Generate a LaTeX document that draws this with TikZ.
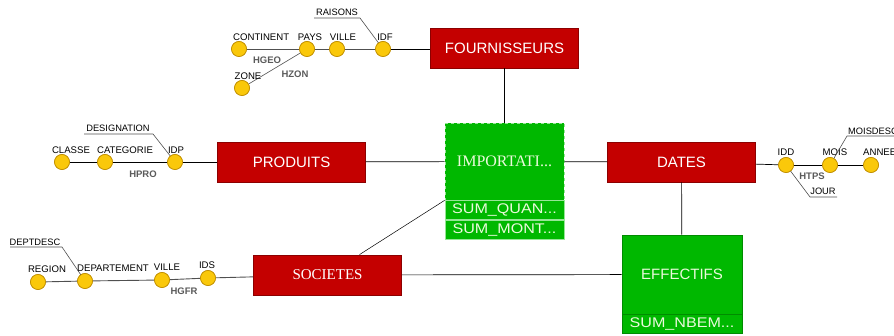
\documentclass[tikz,border=0pt]{standalone}
\usepackage{fontspec}
\setmainfont{Liberation Sans}
\newfontfamily\serifl{Liberation Serif}
\definecolor{boxred}{RGB}{196,0,0}
\definecolor{boxreddark}{RGB}{140,0,0}
\definecolor{boxgreen}{RGB}{0,184,0}
\definecolor{greenedge}{RGB}{0,140,0}
\definecolor{greenlight}{RGB}{150,230,150}
\definecolor{greentext}{RGB}{235,250,220}
\definecolor{dotyellow}{RGB}{250,200,10}
\definecolor{dotedge}{RGB}{190,140,0}
\definecolor{linegray}{RGB}{80,80,80}
\definecolor{labgray}{RGB}{90,90,90}
\begin{document}
\begin{tikzpicture}[x=1pt,y=-1pt,
  redbox/.style={fill=boxred,draw=boxreddark,line width=0.8pt,text=white,
    minimum width=148pt,minimum height=40pt,inner sep=0pt,font=\fontsize{15}{15}\selectfont},
  greenbox/.style={fill=boxgreen,draw=greenedge,line width=0.6pt,text=greentext,inner sep=0pt},
  rowbox/.style={fill=boxgreen,draw=greenlight,line width=0.6pt,text=greentext,inner sep=0pt,
    minimum height=19pt,font=\fontsize{14}{14}\selectfont},
  ydot/.style={circle,fill=dotyellow,draw=dotedge,line width=0.6pt,minimum size=15pt,inner sep=0pt},
  lvl/.style={font=\fontsize{9.6}{9.6}\selectfont,text=black,inner sep=0pt},
  hname/.style={font=\fontsize{9.5}{9.5}\selectfont\bfseries,text=labgray,inner sep=0pt},
  attr/.style={font=\fontsize{9.3}{9.3}\selectfont,text=black,inner sep=0pt},
  link/.style={draw=black,line width=0.7pt},
  hline/.style={draw=linegray,line width=0.9pt},
  aline/.style={draw=linegray,line width=0.6pt}
]
\useasboundingbox (0,0) rectangle (894,336);

% ---- main boxes
\node[redbox] (four) at (504.5,48) {FOURNISSEURS};
\node[redbox] (prod) at (291.5,162) {PRODUITS};
\node[redbox] (dates) at (681.5,162) {DATES};
\node[redbox,font=\serifl\fontsize{15}{15}\selectfont] (soc) at (327.5,275) {SOCIETES};

\node[greenbox,draw=greenlight,dashed,minimum width=119pt,minimum height=77pt,font=\serifl\fontsize{16}{16}\selectfont] (imp) at (504.5,161.5) {IMPORTATI...};
\node[rowbox,minimum width=119pt,anchor=north] (impa) at (imp.south) {\scalebox{1.15}[1]{SUM\_QUAN...}};
\node[rowbox,minimum width=119pt,anchor=north] (impb) at (impa.south) {\scalebox{1.15}[1]{SUM\_MONT...}};

\node[greenbox,minimum width=120pt,minimum height=79pt,font=\fontsize{15}{15}\selectfont] (eff) at (682,274.5) {EFFECTIFS};
\node[rowbox,draw=greenedge,minimum width=120pt,anchor=north] (effa) at (eff.south) {\scalebox{1.15}[1]{SUM\_NBEM...}};

% ---- links between boxes
\draw[link] (four) -- (imp);
\draw[link] (prod) -- (imp);
\draw[link] (imp) -- (dates);
\draw[link] (dates) -- (eff);
\draw[link] (soc) -- (eff);
\draw[link,line width=0.5pt] (imp.south west) -- (soc);

% ---- FOURNISSEURS hierarchy
\node[ydot] (cont) at (239,49) {};
\node[ydot] (pays) at (307,49) {};
\node[ydot] (fvil) at (337,49) {};
\node[ydot] (idf) at (383,49) {};
\node[ydot] (zone) at (242,88) {};
\draw[hline] (cont) -- (pays);
\draw[hline] (pays) -- (fvil);
\draw[hline] (fvil) -- (idf);
\draw[link] (idf) -- (four.west |- idf);
\draw[aline] (zone) -- (pays);
\node[lvl,anchor=west] at (233,37) {CONTINENT};
\node[lvl] at (310,37) {PAYS};
\node[lvl] at (343,37) {VILLE};
\node[lvl] at (385,37) {IDF};
\node[lvl] at (248,76) {ZONE};
\node[hname] at (267,60) {HGEO};
\node[hname] at (295,74) {HZON};
\node[attr] (rais) at (337,12) {RAISONS};
\coordinate (raisl) at (314,18);
\coordinate (raisr) at (360,18);
\draw[aline] (raisl) -- (raisr) -- (idf.center);

% ---- PRODUITS hierarchy
\node[ydot] (clas) at (62,162) {};
\node[ydot] (cate) at (105,162) {};
\node[ydot] (idp) at (175,162) {};
\draw[link] (clas) -- (cate);
\draw[link] (cate) -- (idp);
\draw[link] (idp) -- (prod);
\node[lvl] at (71,150) {CLASSE};
\node[lvl] at (125,150) {CATEGORIE};
\node[lvl] at (176,150) {IDP};
\node[hname] at (143,174) {HPRO};
\node[attr] (desi) at (118,128) {DESIGNATION};
\coordinate (desil) at (84,134);
\coordinate (desir) at (153,134);
\draw[aline] (desil) -- (desir) -- (idp.center);

% ---- SOCIETES hierarchy
\node[ydot] (regi) at (38,282) {};
\node[ydot] (dept) at (85,281) {};
\node[ydot] (svil) at (162,280) {};
\node[ydot] (ids) at (208,278) {};
\draw[hline] (regi) -- (dept);
\draw[hline] (dept) -- (svil);
\draw[hline] (svil) -- (ids);
\draw[hline] (ids) -- (soc);
\node[lvl] at (47,269) {REGION};
\node[lvl] at (113,268) {DEPARTEMENT};
\node[lvl] at (167,267) {VILLE};
\node[lvl] at (207,265) {IDS};
\node[hname] at (184,291) {HGFR};
\node[attr] (dept2) at (35,242) {DEPTDESC};
\coordinate (deptl) at (10,247);
\coordinate (deptr) at (62,247);
\draw[aline] (deptl) -- (deptr) -- (dept.center);

% ---- DATES hierarchy
\node[ydot] (idd) at (786,165) {};
\node[ydot] (mois) at (830,165) {};
\node[ydot] (anne) at (871,165) {};
\draw[link] (dates) -- (idd);
\draw[link] (idd) -- (mois);
\draw[link] (mois) -- (anne);
\node[lvl] at (786,152) {IDD};
\node[lvl] at (835,152) {MOIS};
\node[lvl,anchor=west] at (863,152) {ANNEE};
\node[hname] at (812,176) {HTPS};
\node[attr,anchor=west] (mdes) at (848,131) {MOISDESC};
\coordinate (mdesl) at (847,136);
\coordinate (mdesr) at (894,136);
\draw[aline] (mdesr) -- (mdesl) -- (mois.center);
\node[attr] (jour) at (823,191) {JOUR};
\coordinate (jourl) at (810,197);
\coordinate (jourr) at (837,197);
\draw[aline] (jourr) -- (jourl) -- (idd.center);

% redraw dots on top of lines
\foreach \n in {cont,pays,fvil,idf,zone,clas,cate,idp,regi,dept,svil,ids,idd,mois,anne}
  \node[ydot] at (\n) {};
\end{tikzpicture}
\end{document}
